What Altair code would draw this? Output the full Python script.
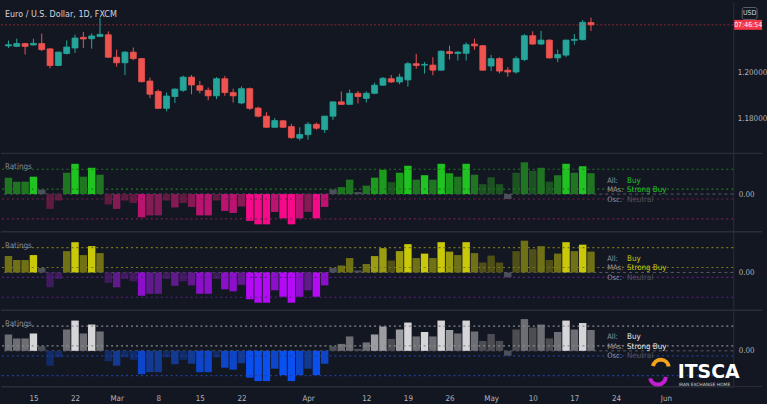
import altair as alt
import pandas as pd

# ---------------- data ----------------
opens = [1.2116, 1.2114, 1.2126, 1.2120, 1.2126, 1.2103, 1.2031, 1.2083, 1.2107, 1.2153,
         1.2147, 1.2157, 1.2164, 1.2067, 1.2043, 1.2089, 1.2061, 1.1964, 1.1919, 1.1846,
         1.1897, 1.1924, 1.1981, 1.1944, 1.1924, 1.1900, 1.1974, 1.1914, 1.1869, 1.1931,
         1.1847, 1.1812, 1.1764, 1.1792, 1.1767, 1.1717, 1.1732, 1.1777, 1.1754, 1.1812,
         1.1874, 1.1863, 1.1911, 1.1889, 1.1911, 1.1946, 1.1974, 1.1960, 1.1969, 1.2039,
         1.2033, 1.2033, 1.2011, 1.2091, 1.2083, 1.2084, 1.2124, 1.2117, 1.2029, 1.2061,
         1.2011, 1.2003, 1.2057, 1.2160, 1.2124, 1.2141, 1.2064, 1.2076, 1.2140, 1.2143,
         1.2217]
highs = [1.2139, 1.2147, 1.2129, 1.2147, 1.2169, 1.2106, 1.2091, 1.2140, 1.2164, 1.2176,
         1.2170, 1.2238, 1.2179, 1.2100, 1.2093, 1.2109, 1.2064, 1.1979, 1.1927, 1.1914,
         1.1933, 1.1987, 1.1990, 1.1964, 1.1936, 1.1981, 1.1986, 1.1931, 1.1941, 1.1936,
         1.1853, 1.1829, 1.1804, 1.1796, 1.1779, 1.1764, 1.1786, 1.1784, 1.1814, 1.1876,
         1.1919, 1.1927, 1.1921, 1.1919, 1.1957, 1.1981, 1.1990, 1.1996, 1.2047, 1.2081,
         1.2046, 1.2067, 1.2096, 1.2117, 1.2093, 1.2131, 1.2147, 1.2120, 1.2077, 1.2067,
         1.2024, 1.2071, 1.2167, 1.2179, 1.2181, 1.2144, 1.2100, 1.2143, 1.2167, 1.2228,
         1.2238]
lows = [1.2107, 1.2111, 1.2079, 1.2117, 1.2093, 1.2019, 1.2029, 1.2079, 1.2086, 1.2107,
        1.2104, 1.2154, 1.2064, 1.2026, 1.1990, 1.2054, 1.1959, 1.1890, 1.1843, 1.1833,
        1.1869, 1.1917, 1.1907, 1.1911, 1.1881, 1.1886, 1.1900, 1.1871, 1.1864, 1.1839,
        1.1807, 1.1762, 1.1762, 1.1762, 1.1714, 1.1707, 1.1710, 1.1753, 1.1739, 1.1796,
        1.1861, 1.1861, 1.1867, 1.1871, 1.1907, 1.1943, 1.1956, 1.1950, 1.1940, 1.2017,
        1.1996, 1.1989, 1.2009, 1.2057, 1.2053, 1.2053, 1.2099, 1.2009, 1.2007, 1.1997,
        1.1983, 1.1996, 1.2050, 1.2121, 1.2119, 1.2061, 1.2046, 1.2067, 1.2121, 1.2140,
        1.2181]
closes = [1.2121, 1.2126, 1.2114, 1.2127, 1.2100, 1.2031, 1.2089, 1.2111, 1.2150, 1.2146,
          1.2159, 1.2166, 1.2067, 1.2043, 1.2089, 1.2061, 1.1961, 1.1907, 1.1846, 1.1899,
          1.1929, 1.1981, 1.1947, 1.1924, 1.1900, 1.1974, 1.1914, 1.1900, 1.1931, 1.1846,
          1.1812, 1.1764, 1.1793, 1.1764, 1.1719, 1.1733, 1.1777, 1.1760, 1.1812, 1.1874,
          1.1863, 1.1911, 1.1897, 1.1911, 1.1946, 1.1976, 1.1960, 1.1981, 1.2039, 1.2031,
          1.2036, 1.2011, 1.2093, 1.2083, 1.2089, 1.2121, 1.2116, 1.2011, 1.2061, 1.2007,
          1.2003, 1.2061, 1.2160, 1.2124, 1.2141, 1.2064, 1.2079, 1.2141, 1.2144, 1.2218,
          1.2207]

ratings = [0.33, 0.25, 0.25, 0.35, 0.09, -0.30, -0.13, 0.43, 0.61, 0.35, 0.53, 0.39,
           -0.21, -0.30, -0.13, -0.18, -0.47, -0.43, -0.43, -0.13, -0.27, -0.18, -0.26,
           -0.43, -0.43, -0.13, -0.34, -0.38, -0.25, -0.54, -0.61, -0.61, -0.36, -0.49,
           -0.61, -0.49, -0.36, -0.49, -0.26,
           0.09, 0.14, 0.29, 0.04, 0.17, 0.33, 0.49, 0.24, 0.43, 0.57, 0.29, 0.38, 0.29,
           0.61, 0.42, 0.35, 0.61, 0.39, 0.20, 0.34, 0.20, -0.10, 0.43, 0.64, 0.47, 0.53,
           0.25, 0.38, 0.61, 0.43, 0.56, 0.42]
# signal strength 1..4, 0 = neutral
strength = [2, 2, 2, 4, 0, 1, 1, 2, 4, 2, 4, 2,
            1, 2, 1, 1, 3, 2, 2, 1, 2, 1, 2, 3, 3, 1, 3, 3, 2, 4, 4, 4, 3, 4, 4, 3, 2, 4, 3,
            0, 2, 2, 0, 2, 3, 3, 1, 3, 4, 2, 4, 2, 4, 3, 2, 4, 2, 1, 1, 1, 0, 1, 2, 1, 2, 1,
            2, 4, 2, 4, 2]

tick_idx = [3, 8, 13, 18, 23, 28, 36, 43, 48, 53, 58, 63, 68, 73, 79]
tick_lbl = ["15", "22", "Mar", "8", "15", "22", "Apr", "12", "19", "26", "May", "10", "17", "24", "Jun"]
price_ticks = [1.18, 1.20]
level_lines = [0.5, 0.1, -0.1, -0.5]
last_price = 1.2207
title_text = "Euro / U.S. Dollar, 1D, FXCM"
legend_names = ["All:", "MAs:", "Osc:"]
legend_vals = ["Buy", "Strong Buy", "Neutral"]

# ---------------- styling ----------------
BG = "#131722"
SEP = "#2a2e39"
TXT = "#b2b5be"
FONT = "Liberation Sans Narrow, DejaVu Sans Condensed, Roboto Condensed, sans-serif"
UP, DOWN = "#26a69a", "#ef5350"
W = 738
PH = 152
ZERO_OFF = 41
PXU = 50.0

n = len(closes)
idx = list(range(n))
candles = pd.DataFrame({"i": idx, "o": opens, "h": highs, "l": lows, "c": closes})
candles["dir"] = ["up" if c >= o else "down" for o, c in zip(opens, closes)]

rat = pd.DataFrame({"i": idx, "v": ratings, "s": strength})
rat["key"] = ["z" if s == 0 else ("p" if v > 0 else "n") + str(s) for v, s in zip(ratings, strength)]
keys = ["p1", "p2", "p3", "p4", "n1", "n2", "n3", "n4", "z"]

levels = pd.DataFrame({"lvl": level_lines, "side": ["pos" if v > 0 else "neg" for v in level_lines]})
one = pd.DataFrame({"a": [0]})

XS = alt.Scale(domain=[-0.3, 86.5], nice=False, zero=False)

label_expr = " : ".join(f"datum.value == {i} ? '{l}'" for i, l in zip(tick_idx, tick_lbl)) + " : ''"

dir_scale = alt.Scale(domain=["up", "down"], range=[UP, DOWN])

# ---------------- price pane ----------------
pscale = alt.Scale(domain=[1.16554, 1.23077], nice=False, zero=False)
yaxis_p = alt.Axis(orient="right", values=price_ticks, format=".5f", title=None, ticks=False,
                   grid=False, labelColor=TXT, labelFont=FONT, labelFontSize=8, labelPadding=4,
                   domainColor=SEP)

pbase = alt.Chart(candles)
wicks = pbase.mark_rule(strokeWidth=1).encode(
    x=alt.X("i:Q", scale=XS, axis=None),
    y=alt.Y("l:Q", scale=pscale, axis=yaxis_p),
    y2="h:Q",
    color=alt.Color("dir:N", scale=dir_scale, legend=None),
)
bodies = pbase.mark_bar(size=6, strokeWidth=0.8).encode(
    x=alt.X("i:Q", scale=XS, axis=None),
    y=alt.Y("o:Q", scale=pscale),
    y2="c:Q",
    color=alt.Color("dir:N", scale=dir_scale, legend=None),
    stroke=alt.Stroke("dir:N", scale=dir_scale, legend=None),
)
last_line = alt.Chart(one).mark_rule(color="#f23645", opacity=0.55, strokeDash=[2, 2]).encode(
    y=alt.datum(last_price)
)
title_mark = alt.Chart(one).mark_text(align="left", baseline="middle", font=FONT, fontSize=9,
                                      color="#d1d4dc").encode(
    x=alt.value(4), y=alt.value(13), text=alt.value(title_text))
usd_box = alt.Chart(one).mark_rect(fill=BG, stroke="#5d606b", cornerRadius=2).encode(
    x=alt.value(747), x2=alt.value(762), y=alt.value(6), y2=alt.value(18))
usd_txt = alt.Chart(one).mark_text(align="center", baseline="middle", font=FONT, fontSize=7,
                                   color="#d1d4dc").encode(
    x=alt.value(754.5), y=alt.value(12), text=alt.value("USD"))
price_lbl = alt.Chart(one).mark_rect(color="#f23645", yOffset=-5, y2Offset=5).encode(
    x=alt.value(739), x2=alt.value(767), y=alt.datum(last_price), y2=alt.datum(last_price))
price_lbl_txt = alt.Chart(one).mark_text(align="center", baseline="middle", font=FONT, fontSize=7,
                                         color="white").encode(
    x=alt.value(753), y=alt.datum(last_price), text=alt.value("07:46:54"))

price = alt.layer(wicks, bodies, last_line, title_mark, usd_box, usd_txt, price_lbl,
                  price_lbl_txt).properties(width=W, height=PH)


# ---------------- rating panels ----------------
def rating_panel(h, pal, pos_line, neg_line, value_col, bottom=False, logo=False):
    ys = alt.Scale(domain=[-(h - ZERO_OFF) / PXU, ZERO_OFF / PXU], nice=False, zero=False)
    if bottom:
        xaxis = alt.Axis(values=tick_idx, labelExpr=label_expr, title=None, ticks=False, grid=False,
                         labelColor=TXT, labelFont=FONT, labelFontSize=8, labelPadding=8,
                         domainColor=SEP, labelFlush=False)
    else:
        xaxis = None
    yaxis = alt.Axis(orient="right", values=[0], format=".2f", title=None, ticks=False, grid=False,
                     labelColor=TXT, labelFont=FONT, labelFontSize=8, labelPadding=5,
                     domainColor=SEP)
    bars = alt.Chart(rat).mark_bar(size=7.5).encode(
        x=alt.X("i:Q", scale=XS, axis=xaxis),
        y=alt.Y("v:Q", scale=ys, axis=yaxis),
        y2=alt.datum(0),
        color=alt.Color("key:N", scale=alt.Scale(domain=keys, range=pal), legend=None),
    )
    zero = alt.Chart(one).mark_rule(color="#6a6d78", strokeDash=[3, 3], strokeWidth=0.8).encode(
        y=alt.datum(0))
    lines = alt.Chart(levels).mark_rule(strokeDash=[2, 3], strokeWidth=1.2).encode(
        y=alt.Y("lvl:Q", scale=ys),
        stroke=alt.Stroke("side:N", scale=alt.Scale(domain=["pos", "neg"], range=[pos_line, neg_line]),
                          legend=None),
    )
    sep = alt.Chart(one).mark_rule(color=SEP, strokeWidth=1.5).encode(
        x=alt.value(0), x2=alt.value(767), y=alt.value(0))
    name = alt.Chart(one).mark_text(align="left", baseline="middle", font=FONT, fontSize=8,
                                    color="#8a8d96").encode(
        x=alt.value(4), y=alt.value(14), text=alt.value("Ratings"))
    layers = [zero, bars, lines, sep, name]
    val_cols = [value_col, value_col, "#50535e"]
    for k in range(3):
        yy = 27.5 + 9.5 * k
        layers.append(alt.Chart(one).mark_text(align="left", baseline="middle", font=FONT, fontSize=7.5,
                                               color="#9598a1").encode(
            x=alt.value(611), y=alt.value(yy), text=alt.value(legend_names[k])))
        layers.append(alt.Chart(one).mark_text(align="left", baseline="middle", font=FONT, fontSize=8,
                                               color=val_cols[k]).encode(
            x=alt.value(631), y=alt.value(yy), text=alt.value(legend_vals[k])))
    if bottom:
        layers.append(alt.Chart(one).mark_rule(color=SEP, strokeWidth=1).encode(
            x=alt.value(0), x2=alt.value(767), y=alt.value(h)))
    if logo:
        layers.append(alt.Chart(one).mark_arc(theta=4.9, theta2=7.7, innerRadius=6, outerRadius=10,
                                              color="#f5a31a").encode(x=alt.value(665), y=alt.value(58)))
        layers.append(alt.Chart(one).mark_arc(theta=1.6, theta2=4.5, innerRadius=6, outerRadius=10,
                                              color="#c21fd0").encode(x=alt.value(662), y=alt.value(67)))
        layers.append(alt.Chart(one).mark_text(align="left", baseline="middle", font="DejaVu Sans",
                                               fontWeight="bold", fontSize=19, color="white").encode(
            x=alt.value(682), y=alt.value(62), text=alt.value("ITSCA")))
        layers.append(alt.Chart(one).mark_text(align="left", baseline="middle", font="DejaVu Sans",
                                               fontSize=4.5, color="#d0d0d0").encode(
            x=alt.value(683), y=alt.value(75.5), text=alt.value("IRAN EXCHANGE HOME")))
    return alt.layer(*layers).properties(width=W, height=h)


p1 = rating_panel(78,
                  ["#1d5222", "#1f7522", "#1b9c1b", "#20c420", "#5e1b3f", "#851a55", "#ba1470", "#f70a8a", "#4c505b"],
                  "#1f7a1f", "#7a1f4f", "#22c322")
p2 = rating_panel(78,
                  ["#4f4f17", "#707014", "#9c9c10", "#c9c90a", "#3f1a5c", "#601a8c", "#8c10ca", "#b40af5", "#4c505b"],
                  "#7a7a1a", "#5a1f86", "#c8c80a")
p3 = rating_panel(77,
                  ["#4c4d52", "#6e6f74", "#9c9da1", "#d6d6d9", "#112b68", "#123a92", "#0d46ca", "#0a50f0", "#4c505b"],
                  "#8a8a8e", "#1f3f9a", "#e8e8e8", bottom=True, logo=True)

chart = alt.vconcat(price, p1, p2, p3, spacing=0).resolve_scale(
    color="independent", stroke="independent"
).properties(
    background=BG, padding=0
).configure_view(stroke=None)

chart.save("out.html", embed_options={"renderer": "svg", "actions": False})
